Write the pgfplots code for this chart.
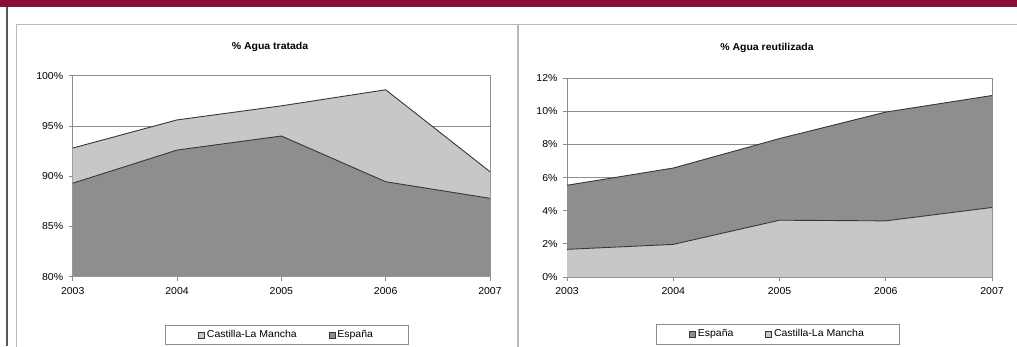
\documentclass[border=0pt]{standalone}
\usepackage{pgfplots}
\pgfplotsset{compat=1.18}
\usepackage{fontspec}
\setmainfont{Liberation Sans}[FakeStretch=1.05]
\definecolor{maroon}{RGB}{137,14,58}
\definecolor{lightarea}{RGB}{199,199,199}
\definecolor{darkarea}{RGB}{142,142,142}
\definecolor{edgeline}{RGB}{55,55,55}
\definecolor{gridc}{RGB}{140,140,140}
\pgfplotsset{
  mychart/.style={
    scale only axis,
    anchor=south west,
    xmin=2003, xmax=2007,
    xtick={2003,2004,2005,2006,2007},
    xticklabels={2003,2004,2005,2006,2007},
    tick align=outside,
    xtick pos=bottom, ytick pos=left,
    major tick length=4pt,
    tick style={gridc, line width=0.8pt},
    axis line style={gridc, line width=0.8pt},
    ymajorgrids,
    grid style={gridc, line width=0.8pt},
    tick label style={font=\fontsize{10}{11}\selectfont},
    /pgf/number format/assume math mode=true,
    yticklabel={\pgfmathprintnumber{\tick}\%},
    yticklabel style={xshift=-2pt},
    xticklabel style={yshift=-3pt},
    legend columns=2,
    legend style={draw=gridc, line width=0.8pt, font=\fontsize{10}{11}\selectfont,
      inner xsep=33pt, inner ysep=3pt, anchor=north west,
      nodes={text height=7.5pt, text depth=2pt},
      /tikz/every even column/.append style={column sep=30pt}},
    legend cell align=left,
  },
  lightsq/.style={legend image code/.code={\draw[draw=edgeline,fill=lightarea,line width=0.6pt] (0pt,-3pt) rectangle (6pt,3pt);}},
  darksq/.style={legend image code/.code={\draw[draw=edgeline,fill=darkarea,line width=0.6pt] (0pt,-3pt) rectangle (6pt,3pt);}},
}
\begin{document}
\begin{tikzpicture}[x=1pt,y=1pt]
\useasboundingbox (0,0) rectangle (1017,346);
% top band and left border
\fill[maroon] (0,339) rectangle (1017,346);
\fill[black!65] (5.5,0) rectangle (7.5,339);
% chart frames
\draw[gray!55, line width=1pt] (16,-5) rectangle (517,321);
\draw[gray!55, line width=1pt] (518.5,-5) rectangle (1025,321);
% titles
\node[font=\bfseries\fontsize{10}{11}\selectfont] at (270,299) {\% Agua tratada};
\node[font=\bfseries\fontsize{10}{11}\selectfont] at (767,298) {\% Agua reutilizada};

\begin{axis}[mychart,
  at={(72.7pt,69.3pt)}, width=417.3pt, height=201pt,
  ymin=80, ymax=100, ytick={80,85,90,95,100},
  legend style={at={(axis description cs:0.221,-0.240)}},
]
\addplot[draw=none, fill=lightarea, lightsq] coordinates {
  (2003,92.8) (2004,95.6) (2005,97.0) (2006,98.6) (2007,90.45)} \closedcycle;
\addlegendentry{Castilla-La Mancha}
\addplot[draw=none, fill=darkarea, darksq] coordinates {
  (2003,89.3) (2004,92.6) (2005,94.0) (2006,89.45) (2007,87.8)} \closedcycle;
\addlegendentry{España}
\addplot[forget plot, edgeline, line width=0.9pt] coordinates {
  (2003,92.8) (2004,95.6) (2005,97.0) (2006,98.6) (2007,90.45)};
\addplot[forget plot, edgeline, line width=0.9pt] coordinates {
  (2003,89.3) (2004,92.6) (2005,94.0) (2006,89.45) (2007,87.8)};
\end{axis}

\begin{axis}[mychart,
  at={(567pt,69pt)}, width=425pt, height=198.7pt,
  ymin=0, ymax=12, ytick={0,2,4,6,8,10,12},
  legend style={at={(axis description cs:0.209,-0.237)}},
]
\addplot[draw=none, fill=darkarea, darksq] coordinates {
  (2003,5.54) (2004,6.58) (2005,8.36) (2006,9.96) (2007,10.96)} \closedcycle;
\addlegendentry{España}
\addplot[draw=none, fill=lightarea, lightsq] coordinates {
  (2003,1.67) (2004,1.97) (2005,3.43) (2006,3.39) (2007,4.2)} \closedcycle;
\addlegendentry{Castilla-La Mancha}
\addplot[forget plot, edgeline, line width=0.9pt] coordinates {
  (2003,5.54) (2004,6.58) (2005,8.36) (2006,9.96) (2007,10.96)};
\addplot[forget plot, edgeline, line width=0.9pt] coordinates {
  (2003,1.67) (2004,1.97) (2005,3.43) (2006,3.39) (2007,4.2)};
\end{axis}
\end{tikzpicture}
\end{document}
